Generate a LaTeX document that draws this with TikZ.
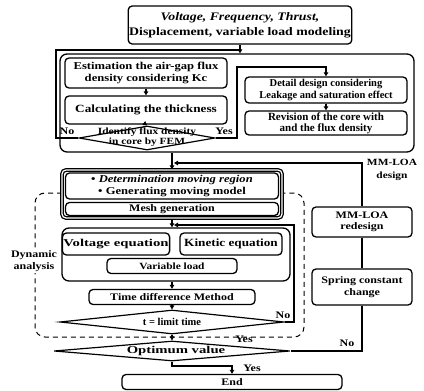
\documentclass[tikz,border=0pt]{standalone}
\usepackage{fontspec}
\setmainfont{Liberation Serif}[FakeStretch=1.2]
\newfontfamily\nrw{Liberation Serif}
\newfontfamily\wde{Liberation Serif}[FakeStretch=1.4]
\usetikzlibrary{arrows.meta,shapes.geometric,backgrounds}
\begin{document}
\begin{tikzpicture}[x=1pt,y=-1pt,
  every node/.style={font=\fontsize{10}{11.5}\selectfont\bfseries},
  box/.style={draw,line width=1.3pt,rounded corners=4pt,fill=white,align=center,inner sep=1pt},
  frame/.style={draw,line width=1.3pt,rounded corners=7pt},
  dia/.style={draw,diamond,line width=1.2pt,fill=white,inner sep=0pt},
  lbl/.style={inner sep=1pt,align=center},
  conn/.style={line width=1.3pt},
  arr/.style={line width=1.3pt,-{Triangle[length=4pt,width=4.5pt]}},
  dashloop/.style={line width=1pt,dashed,dash pattern=on 5pt off 4pt,rounded corners=10pt}
]
\useasboundingbox (0,0) rectangle (424,391);

% ---------- design block ----------
\node[box,minimum width=218pt,minimum height=38pt,font=\fontsize{11.5}{15}\selectfont\bfseries] (top) at (240,25)
  {\textit{Voltage, Frequency, Thrust,}\\Displacement, variable load modeling};
\node[frame,minimum width=354pt,minimum height=98pt] (design) at (237,103) {};
\node[box,minimum width=162pt,minimum height=30pt,font=\fontsize{10.5}{12}\selectfont\bfseries] (est) at (146,73)
  {Estimation the air-gap flux\\density considering Kc};
\node[box,minimum width=162pt,minimum height=28pt,font=\fontsize{11}{12}\selectfont\bfseries] (calc) at (146,110)
  {Calculating the thickness};
\node[dia,minimum width=136pt,minimum height=24pt] (idf) at (147,138) {};
\node[lbl,font=\fontsize{9.5}{10}\selectfont\bfseries] (idft) at (147,137)
  {Identify flux density\\in core by FEM};
\node[box,minimum width=162pt,minimum height=26pt,font=\nrw\fontsize{10.5}{12}\selectfont\bfseries] (detail) at (326,90)
  {Detail design considering\\Leakage and saturation effect};
\node[box,minimum width=162pt,minimum height=24pt,font=\nrw\fontsize{11}{11}\selectfont\bfseries] (rev) at (326,123)
  {Revision of the core with\\and the flux density};
\node[lbl] (nol) at (67,131) {No};
\node[lbl] (yesl) at (224,131) {Yes};
\node[lbl,font=\fontsize{9.5}{13}\selectfont\bfseries] (dlab) at (392,170) {MM-LOA\\design};

% ---------- dynamic analysis ----------
\node[lbl,fill=white,font=\fontsize{10}{12.5}\selectfont\bfseries] (dyn) at (34,261) {Dynamic\\analysis};
\node[box,double,double distance=1.2pt,minimum width=220pt,minimum height=48pt] (detbox) at (172,194) {};
\node[box,minimum width=213pt,minimum height=26pt,font=\fontsize{10.5}{12.5}\selectfont\bfseries] (det) at (172,186)
  {\textbullet\ \textit{Determination moving region}\\\textbullet\ Generating moving model};
\node[box,minimum width=213pt,minimum height=13pt] (mesh) at (172,209) {Mesh generation};
\node[frame,fill=white,minimum width=228pt,minimum height=53pt] (block) at (176,254.5) {};
\node[box,minimum width=98pt,minimum height=22pt,font=\wde\fontsize{10.5}{12}\selectfont\bfseries] (volt) at (116,244) {Voltage equation};
\node[box,minimum width=102pt,minimum height=22pt,font=\fontsize{11}{12}\selectfont\bfseries] (kin) at (231,244) {Kinetic equation};
\node[box,minimum width=130pt,minimum height=15pt,font=\fontsize{9.5}{11}\selectfont\bfseries] (var) at (172,266) {Variable load};
\node[box,minimum width=166pt,minimum height=15pt] (time) at (172,297) {Time difference Method};
\node[dia,minimum width=224pt,minimum height=24pt] (tlim) at (172,322) {};
\node[lbl,font=\nrw\fontsize{10.5}{12}\selectfont\bfseries] (tlimt) at (172,322) {t = limit time};
\node[lbl] (no2) at (283,315) {No};
\node[lbl] (yes2) at (244,339) {Yes};
\node[dia,minimum width=236pt,minimum height=20pt] (opt) at (172,351) {};
\node[lbl,font=\wde\fontsize{10.5}{12}\selectfont\bfseries] (optt) at (176,351) {Optimum value};
\node[lbl] (yes3) at (252,368) {Yes};
\node[box,minimum width=220pt,minimum height=15pt] (end) at (232,382) {End};
\node[lbl] (no3) at (347,343) {No};

% ---------- redesign ----------
\node[box,minimum width=100pt,minimum height=30pt] (redes) at (362,222) {MM-LOA\\redesign};
\node[box,minimum width=100pt,minimum height=36pt] (spring) at (362,287) {Spring constant\\change};

\coordinate (jn1) at (174,163);
\coordinate (jn2) at (174,225);

\begin{pgfonlayer}{background}
  \draw[dashloop] (62,193) -- (35,193) -- (35,337) -- (304,337) -- (304,193) -- (282,193);
  \draw[conn] (opt.east) -- (spring.south |- opt.east) -- (spring.south);
  \draw[conn] (spring.north) -- (redes.south);
\end{pgfonlayer}

% connectors
\draw[arr] (top.south) -- (top.south |- design.north);
\draw[conn] (idf.west) -| (56,50) -- (top.south |- 0,50);
\draw[arr] (est.south) -- (calc.north);
\draw[arr] (calc.south) -- (idf.north);
\draw[arr] (idf.east) -| (237,67) -| (detail.north);
\draw[arr] (detail.south) -- (rev.north);
\draw[arr] (detbox.north |- design.south) -- (detbox.north);
\draw[arr] (redes.north) |- (jn1);
\draw[arr] (detbox.south) -- (detbox.south |- block.north);
\draw[arr] (tlim.east) -| (294,225) -- (jn2);
\draw[arr] (block.south -| time.north) -- (time.north);
\draw[arr] (time.south) -- (tlim.north);
\draw[arr] (tlim.south) -- (opt.north);
\draw[arr] (opt.south) |- (end.north |- 0,366) -- (end.north);
\end{tikzpicture}
\end{document}
